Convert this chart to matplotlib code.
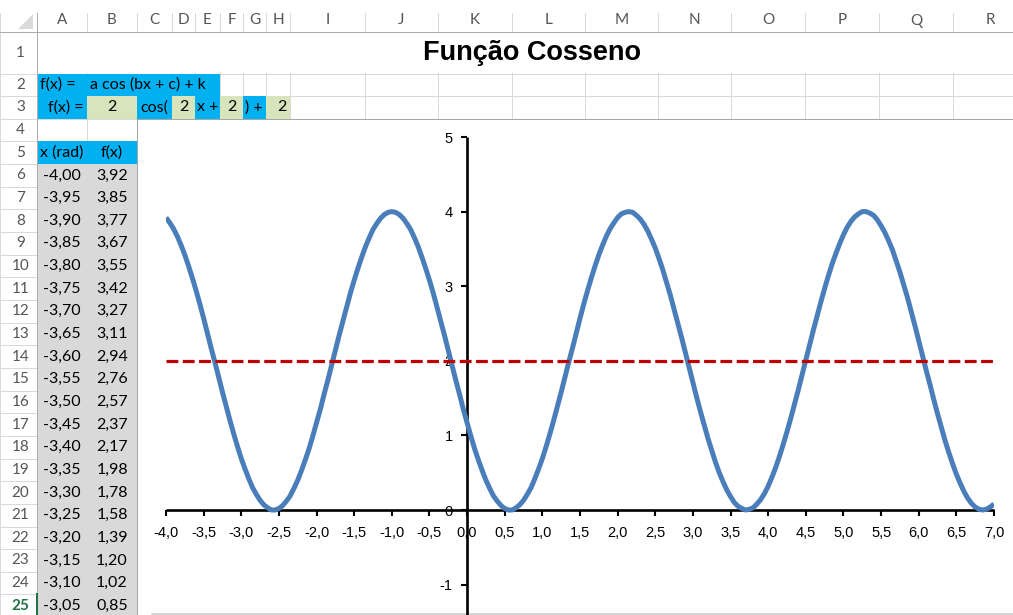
import matplotlib
matplotlib.use("Agg")
import matplotlib.pyplot as plt
from matplotlib.patches import Rectangle, Polygon

# ── Dados ────────────────────────────────────────────────────────────────────

a, b, c, k = 2, 2, 2, 2

x_rad = [
    -4.00, -3.95, -3.90, -3.85, -3.80, -3.75, -3.70, -3.65, -3.60, -3.55, -3.50,
    -3.45, -3.40, -3.35, -3.30, -3.25, -3.20, -3.15, -3.10, -3.05, -3.00, -2.95,
    -2.90, -2.85, -2.80, -2.75, -2.70, -2.65, -2.60, -2.55, -2.50, -2.45, -2.40,
    -2.35, -2.30, -2.25, -2.20, -2.15, -2.10, -2.05, -2.00, -1.95, -1.90, -1.85,
    -1.80, -1.75, -1.70, -1.65, -1.60, -1.55, -1.50, -1.45, -1.40, -1.35, -1.30,
    -1.25, -1.20, -1.15, -1.10, -1.05, -1.00, -0.95, -0.90, -0.85, -0.80, -0.75,
    -0.70, -0.65, -0.60, -0.55, -0.50, -0.45, -0.40, -0.35, -0.30, -0.25, -0.20,
    -0.15, -0.10, -0.05, 0.00, 0.05, 0.10, 0.15, 0.20, 0.25, 0.30, 0.35,
    0.40, 0.45, 0.50, 0.55, 0.60, 0.65, 0.70, 0.75, 0.80, 0.85, 0.90,
    0.95, 1.00, 1.05, 1.10, 1.15, 1.20, 1.25, 1.30, 1.35, 1.40, 1.45,
    1.50, 1.55, 1.60, 1.65, 1.70, 1.75, 1.80, 1.85, 1.90, 1.95, 2.00,
    2.05, 2.10, 2.15, 2.20, 2.25, 2.30, 2.35, 2.40, 2.45, 2.50, 2.55,
    2.60, 2.65, 2.70, 2.75, 2.80, 2.85, 2.90, 2.95, 3.00, 3.05, 3.10,
    3.15, 3.20, 3.25, 3.30, 3.35, 3.40, 3.45, 3.50, 3.55, 3.60, 3.65,
    3.70, 3.75, 3.80, 3.85, 3.90, 3.95, 4.00, 4.05, 4.10, 4.15, 4.20,
    4.25, 4.30, 4.35, 4.40, 4.45, 4.50, 4.55, 4.60, 4.65, 4.70, 4.75,
    4.80, 4.85, 4.90, 4.95, 5.00, 5.05, 5.10, 5.15, 5.20, 5.25, 5.30,
    5.35, 5.40, 5.45, 5.50, 5.55, 5.60, 5.65, 5.70, 5.75, 5.80, 5.85,
    5.90, 5.95, 6.00, 6.05, 6.10, 6.15, 6.20, 6.25, 6.30, 6.35, 6.40,
    6.45, 6.50, 6.55, 6.60, 6.65, 6.70, 6.75, 6.80, 6.85, 6.90, 6.95,
    7.00,
]

f_x = [
    3.92, 3.85, 3.77, 3.67, 3.55, 3.42, 3.27, 3.11, 2.94, 2.76, 2.57,
    2.37, 2.17, 1.98, 1.78, 1.58, 1.39, 1.20, 1.02, 0.85, 0.69, 0.55,
    0.42, 0.30, 0.21, 0.13, 0.07, 0.03, 0.00, 0.00, 0.02, 0.06, 0.12,
    0.19, 0.29, 0.40, 0.53, 0.67, 0.82, 0.99, 1.17, 1.35, 1.55, 1.74,
    1.94, 2.14, 2.34, 2.53, 2.72, 2.91, 3.08, 3.24, 3.39, 3.53, 3.65,
    3.76, 3.84, 3.91, 3.96, 3.99, 4.00, 3.99, 3.96, 3.91, 3.84, 3.76,
    3.65, 3.53, 3.39, 3.24, 3.08, 2.91, 2.72, 2.53, 2.34, 2.14, 1.94,
    1.74, 1.55, 1.35, 1.17, 0.99, 0.82, 0.67, 0.53, 0.40, 0.29, 0.19,
    0.12, 0.06, 0.02, 0.00, 0.00, 0.03, 0.07, 0.13, 0.21, 0.30, 0.42,
    0.55, 0.69, 0.85, 1.02, 1.20, 1.39, 1.58, 1.78, 1.98, 2.17, 2.37,
    2.57, 2.76, 2.94, 3.11, 3.27, 3.42, 3.55, 3.67, 3.77, 3.85, 3.92,
    3.97, 3.99, 4.00, 3.99, 3.95, 3.90, 3.83, 3.74, 3.63, 3.51, 3.37,
    3.22, 3.05, 2.88, 2.69, 2.50, 2.31, 2.11, 1.91, 1.71, 1.51, 1.32,
    1.14, 0.96, 0.80, 0.64, 0.50, 0.38, 0.27, 0.18, 0.10, 0.05, 0.02,
    0.00, 0.01, 0.03, 0.08, 0.14, 0.22, 0.32, 0.44, 0.57, 0.72, 0.88,
    1.05, 1.23, 1.42, 1.61, 1.81, 2.01, 2.21, 2.41, 2.60, 2.79, 2.97,
    3.14, 3.30, 3.44, 3.57, 3.69, 3.79, 3.87, 3.93, 3.97, 4.00, 4.00,
    3.98, 3.95, 3.89, 3.81, 3.72, 3.61, 3.49, 3.34, 3.19, 3.02, 2.85,
    2.66, 2.47, 2.27, 2.07, 1.87, 1.68, 1.48, 1.29, 1.11, 0.93, 0.77,
    0.62, 0.48, 0.36, 0.25, 0.16, 0.09, 0.04, 0.01, 0.00, 0.01, 0.04,
    0.08,
]

x_ticks = [-4.0, -3.5, -3.0, -2.5, -2.0, -1.5, -1.0, -0.5, 0.0, 0.5, 1.0, 1.5,
           2.0, 2.5, 3.0, 3.5, 4.0, 4.5, 5.0, 5.5, 6.0, 6.5, 7.0]
y_ticks = [-1, 0, 1, 2, 3, 4, 5]
y_min = -2                # o eixo continua abaixo do recorte da tela

col_letters = ["A", "B", "C", "D", "E", "F", "G", "H", "I",
               "J", "K", "L", "M", "N", "O", "P", "Q", "R"]
title = "Função Cosseno"

# ── Layout da planilha (px) ──────────────────────────────────────────────────

W, H = 1013, 615
col_edges = [37, 87, 137, 172, 195, 220, 243, 266, 290, 365, 438, 511.5,
             585, 658, 731, 805, 879, 953, 1027]
HDR_TOP, HDR_BOT = 13, 32
ROW1_BOT, ROW_H = 73.5, 22.65


def row_top(n):
    return HDR_BOT if n == 1 else ROW1_BOT + (n - 2) * ROW_H


def row_mid(n):
    return (row_top(n) + row_top(n + 1)) / 2


def col_mid(i):
    return (col_edges[i] + col_edges[i + 1]) / 2


BLUE, GREEN, GRAY = "#00B0F0", "#D8E4BC", "#D9D9D9"
GRID, HDR_TXT = "#D9D9D9", "#555555"
PX = 72 / 100           # 1 px em pontos
CELL_FONT = "Lato"
CHART_FONT = "Liberation Sans"

fig = plt.figure(figsize=(W / 100, H / 100), dpi=100)
bg = fig.add_axes([0, 0, 1, 1])
bg.set_xlim(0, W); bg.set_ylim(H, 0); bg.axis("off")

# grade
n_rows = 26
for n in range(2, n_rows + 1):
    y = row_top(n)
    bg.plot([0, W], [y, y], color=GRID, lw=PX, zorder=1)
for xe in col_edges:
    bg.plot([xe, xe], [HDR_TOP, H], color=GRID, lw=PX, zorder=1)
bg.plot([0, 0], [HDR_TOP, H], color=GRID, lw=PX, zorder=1)

# linha 1 mesclada
bg.add_patch(Rectangle((col_edges[0] + 0.6, HDR_BOT + 0.6), W, ROW1_BOT - HDR_BOT - 1.2,
                       facecolor="white", edgecolor="none", zorder=2))

# cabeçalhos
bg.plot([0, W], [HDR_BOT, HDR_BOT], color="#ABABAB", lw=PX, zorder=3)
bg.plot([col_edges[0], col_edges[0]], [HDR_TOP, H], color="#ABABAB", lw=PX, zorder=3)
bg.add_patch(Polygon([(33, 14), (33, 29), (18, 29)], closed=True,
                     facecolor="#DADADA", edgecolor="none", zorder=3))
for i, letter in enumerate(col_letters):
    bg.text(col_mid(i), 20.5, letter, ha="center", va="center", fontsize=11,
            family=CELL_FONT, color=HDR_TXT, zorder=4)
for n in range(1, n_rows):
    bg.text(20.5, row_mid(n), str(n), ha="center", va="center", fontsize=11,
            family=CELL_FONT, zorder=4,
            color="#217346" if n == 25 else HDR_TXT,
            fontweight="bold" if n == 25 else "normal")
bg.plot([col_edges[0], col_edges[0]], [row_top(25), H], color="#217346", lw=2 * PX, zorder=4)


def fill(c0, c1, r, color):
    x0, x1 = col_edges[c0], col_edges[c1 + 1]
    y0, y1 = row_top(r), row_top(r + 1)
    bg.add_patch(Rectangle((x0, y0), x1 - x0, y1 - y0, facecolor=color,
                           edgecolor="none", zorder=2))


fill(0, 4, 2, BLUE)
for ci, color in enumerate([BLUE, GREEN, BLUE, GREEN, BLUE, GREEN, BLUE, GREEN]):
    fill(ci, ci, 3, color)
fill(0, 1, 5, BLUE)
for r in range(6, n_rows):
    fill(0, 1, r, GRAY)

txt = dict(fontsize=11.5, family=CELL_FONT, color="black", va="center", zorder=4)
bg.text(40, row_mid(2), "f(x) =", ha="left", **txt)
bg.text(90, row_mid(2), "a cos (bx + c) + k", ha="left", **txt)
bg.text(84, row_mid(3), "f(x) =", ha="right", **txt)
bg.text(col_mid(1), row_mid(3), str(a), ha="center", **txt)
bg.text(140, row_mid(3), "cos(", ha="left", **txt)
bg.text(col_mid(3), row_mid(3), str(b), ha="center", **txt)
bg.text(197, row_mid(3), "x +", ha="left", **txt)
bg.text(col_mid(5), row_mid(3), str(c), ha="center", **txt)
bg.text(245, row_mid(3), ") +", ha="left", **txt)
bg.text(282, row_mid(3), str(k), ha="center", **txt)
bg.text(col_mid(0), row_mid(5), "x (rad)", ha="center", **txt)
bg.text(col_mid(1), row_mid(5), "f(x)", ha="center", **txt)
for i, r in enumerate(range(6, n_rows)):
    bg.text(col_mid(0), row_mid(r), f"{x_rad[i]:.2f}".replace(".", ","), ha="center", **txt)
    bg.text(col_mid(1), row_mid(r), f"{f_x[i]:.2f}".replace(".", ","), ha="center", **txt)

bg.text((col_edges[0] + col_edges[-1]) / 2, row_mid(1) + 0.5, title, ha="center", va="center",
        fontsize=19.5, fontweight="bold", family=CHART_FONT, zorder=4)

# área do gráfico
chart_top = row_top(4)
bg.add_patch(Rectangle((col_edges[2], chart_top), W, H, facecolor="white",
                       edgecolor="#A6A6A6", lw=PX, zorder=5))
bg.plot([152, W], [613.5, 613.5], color="#C8C8C8", lw=1.5 * PX, zorder=6)

# ── Gráfico ──────────────────────────────────────────────────────────────────

px_unit_y = 74.6
y_top_px, x_left_px, x_right_px = 137, 166, 994
bottom_px = y_top_px + (y_ticks[-1] - y_min) * px_unit_y
ax = fig.add_axes([x_left_px / W, (H - bottom_px) / H,
                   (x_right_px - x_left_px) / W, (bottom_px - y_top_px) / H])
ax.patch.set_visible(False)
ax.set_xlim(x_ticks[0], x_ticks[-1])
ax.set_ylim(y_min, y_ticks[-1])

ax.plot(x_rad, f_x, color="#4A7EBB", lw=3.6, solid_capstyle="butt", zorder=3)
ax.plot([x_rad[0], x_rad[-1]], [k, k], color="#C00000", lw=2.3,
        dashes=(3.7, 1.4), dash_capstyle="butt", zorder=3.1)

for side in ("top", "right"):
    ax.spines[side].set_visible(False)
for side in ("left", "bottom"):
    ax.spines[side].set_position(("data", 0))
    ax.spines[side].set_linewidth(1.9)
    ax.spines[side].set_capstyle("butt")

ax.set_xticks(x_ticks)
ax.set_xticklabels([f"{t:.1f}".replace(".", ",") for t in x_ticks])
ax.set_yticks(y_ticks)
ax.set_yticklabels([str(t) for t in y_ticks])
ax.tick_params(axis="both", direction="out", length=4.3, width=1.5,
               labelsize=10.5, colors="black")
ax.tick_params(axis="x", pad=7.5)
ax.tick_params(axis="y", pad=6)
for lbl in ax.get_xticklabels() + ax.get_yticklabels():
    lbl.set_family(CHART_FONT)

fig.savefig("out.png", dpi=100)
